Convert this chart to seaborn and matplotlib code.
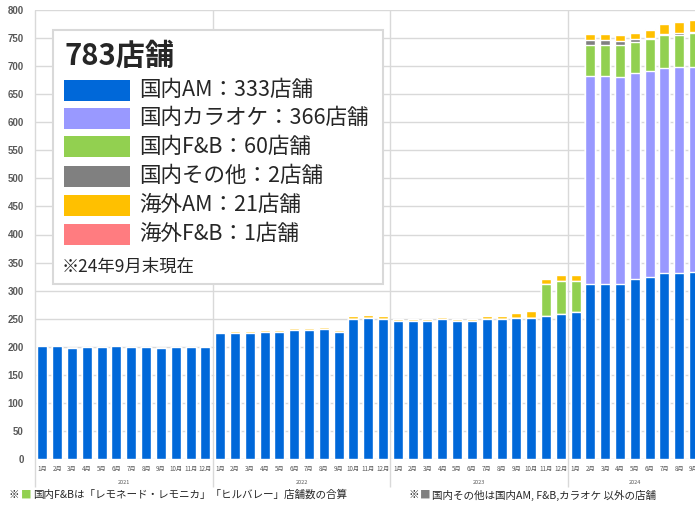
import numpy as np
import pandas as pd
import seaborn as sns
import matplotlib.pyplot as plt
from matplotlib.patches import Rectangle

# --- data (Jan 2021 - Sep 2024) ---
years = ['2021', '2022', '2023', '2024']
months_in_year = [12, 12, 12, 9]

am_domestic = [201, 201, 198, 199, 200, 201, 199, 199, 198, 199, 199, 199,
               224, 225, 225, 227, 227, 229, 230, 231, 227, 250, 251, 250,
               245, 245, 246, 249, 245, 246, 250, 250, 251, 252, 254, 259,
               262, 311, 312, 312, 321, 325, 331, 332, 333]
karaoke = [0, 0, 0, 0, 0, 0, 0, 0, 0, 0, 0, 0,
           0, 0, 0, 0, 0, 0, 0, 0, 0, 0, 0, 0,
           0, 0, 0, 0, 0, 0, 0, 0, 0, 0, 0, 0,
           0, 371, 370, 369, 367, 367, 366, 367, 366]
fb_domestic = [0, 0, 0, 0, 0, 0, 0, 0, 0, 0, 0, 0,
               0, 0, 0, 0, 0, 0, 0, 0, 0, 0, 0, 0,
               0, 0, 0, 0, 0, 0, 0, 0, 0, 0, 58, 58,
               55, 56, 56, 56, 55, 57, 58, 57, 60]
other_domestic = [0, 0, 0, 0, 0, 0, 0, 0, 0, 0, 0, 0,
                  0, 0, 0, 0, 0, 0, 0, 0, 0, 0, 0, 0,
                  0, 0, 0, 0, 0, 0, 0, 0, 0, 0, 0, 0,
                  0, 9, 9, 8, 5, 2, 2, 3, 2]
am_overseas = [0, 0, 0, 0, 0, 0, 0, 0, 0, 0, 0, 3,
               3, 3, 3, 3, 3, 4, 4, 4, 3, 4, 5, 4,
               5, 5, 4, 4, 4, 4, 5, 5, 9, 11, 9, 10,
               11, 11, 11, 10, 11, 14, 18, 19, 21]
fb_overseas = [0, 0, 0, 0, 0, 0, 0, 0, 0, 0, 0, 0,
               0, 0, 0, 0, 0, 0, 0, 0, 0, 0, 0, 0,
               0, 0, 0, 0, 0, 0, 0, 0, 0, 0, 0, 0,
               0, 0, 0, 0, 0, 1, 1, 1, 1]

labels = ['国内AM：333店舗', '国内カラオケ：366店舗', '国内F&B：60店舗',
          '国内その他：2店舗', '海外AM：21店舗', '海外F&B：1店舗']
colors = ['#0068D9', '#9999FF', '#92D050', '#808080', '#FFC000', '#FF7C80']

# build the frame
periods, month_labels = [], []
for y, n in zip(years, months_in_year):
    for m in range(1, n + 1):
        periods.append(f'{y}-{m:02d}')
        month_labels.append(f'{m}月')

df = pd.DataFrame({'period': periods, 'am': am_domestic, 'karaoke': karaoke,
                   'fb': fb_domestic, 'other': other_domestic,
                   'am_os': am_overseas, 'fb_os': fb_overseas})
layers = ['am', 'karaoke', 'fb', 'other', 'am_os', 'fb_os']
cum = df[layers].cumsum(axis=1)

sns.set_style('white')
plt.rcParams['font.family'] = ['Noto Sans CJK JP', 'DejaVu Sans']

W, H = 695, 507
fig = plt.figure(figsize=(W / 100, H / 100), dpi=100)
ax = fig.add_axes([35 / W, 48 / H, 666.5 / W, 449 / H])

# stacked bars: draw cumulative totals from the top layer down
for layer, color in zip(layers[::-1], colors[::-1]):
    sns.barplot(x=df['period'], y=cum[layer], color=color, width=0.675,
                errorbar=None, ax=ax, order=periods, saturation=1)

ax.set_ylim(0, 800)
ax.set_xlim(-0.5, len(periods) - 0.5)
ax.set_yticks(np.arange(0, 801, 50))
ax.yaxis.grid(True, color='#D9D9D9', lw=1)
ax.set_axisbelow(True)
sns.despine(ax=ax, left=True, bottom=True)
ax.set_xlabel('')
ax.set_ylabel('')
ax.set_xticks(range(len(periods)))
ax.set_xticklabels(month_labels, fontsize=4.5, color='#595959')
ax.tick_params(axis='x', length=0, pad=4)
ax.tick_params(axis='y', length=0, pad=8)
for t in ax.get_yticklabels():
    t.set_fontfamily('Liberation Sans')
    t.set_fontweight('bold')
    t.set_fontsize(7)
    t.set_color('#595959')

# year separators and year labels
start = 0
for y, n in zip(years, months_in_year):
    ax.vlines(start - 0.5, -50, 800, color='#D9D9D9', lw=1, clip_on=False, zorder=0)
    ax.text(start + (n - 1) / 2, -41, y, ha='center', va='center',
            fontsize=4, color='#595959', clip_on=False)
    start += n

# legend box
fig.patches.append(Rectangle((53 / W, 1 - 284 / H), 330 / W, 254 / H,
                             transform=fig.transFigure, facecolor='white',
                             edgecolor='#D9D9D9', lw=1.5, zorder=3))
fig.text(64 / W, 1 - 56 / H, '783店舗', fontsize=21, fontweight='bold',
         va='center', zorder=4)
row_y = [90, 118, 147, 176, 205, 234]
for ry, lab, c in zip(row_y, labels, colors):
    fig.patches.append(Rectangle((64 / W, 1 - (ry + 10.5) / H), 66 / W, 21 / H,
                                 transform=fig.transFigure, facecolor=c,
                                 lw=0, zorder=4))
    fig.text(139 / W, 1 - ry / H, lab, fontsize=15.5, va='center', zorder=4)
fig.text(62 / W, 1 - 267 / H, '※24年9月末現在', fontsize=12.5, va='center', zorder=4)

# footnote
fy = 1 - 495 / H
fs = 7.6
fig.text(8 / W, fy, '※', fontsize=fs, va='center')
fig.text(21 / W, fy, '■', fontsize=fs, va='center', color='#92D050')
fig.text(33 / W, fy, '国内F&Bは「レモネード・レモニカ」「ヒルバレー」店舗数の合算',
         fontsize=fs, va='center')
fig.text(408 / W, fy, '※', fontsize=fs, va='center')
fig.text(420 / W, fy, '■', fontsize=fs, va='center', color='#808080')
fig.text(432 / W, fy, '国内その他は国内AM, F&B,カラオケ 以外の店舗',
         fontsize=fs, va='center')

fig.savefig('out.png', dpi=100)
